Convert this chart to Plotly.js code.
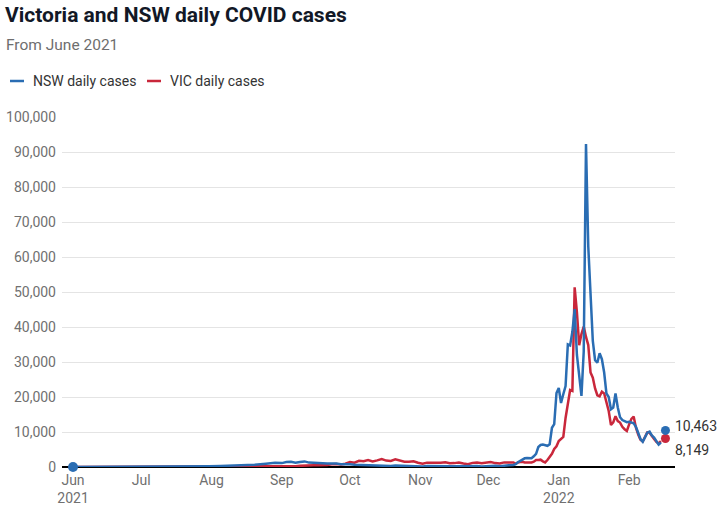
<!DOCTYPE html>
<html>
<head>
<meta charset="utf-8">
<script src="https://cdn.plot.ly/plotly-3.0.1.min.js"></script>
<style>
  html, body { margin: 0; padding: 0; background: #fff; }
  #chart { width: 728px; height: 513px; }
</style>
</head>
<body>
<div id="chart"></div>
<script>
// ---- Data ----
const dates = [
  '2021-06-01','2021-06-06','2021-06-11','2021-06-16','2021-06-21','2021-06-26',
  '2021-07-01','2021-07-06','2021-07-11','2021-07-16','2021-07-21','2021-07-26','2021-07-31',
  '2021-08-05','2021-08-10','2021-08-15','2021-08-20','2021-08-25','2021-08-29',
  '2021-09-01','2021-09-03','2021-09-05','2021-09-07','2021-09-09','2021-09-11','2021-09-13',
  '2021-09-15','2021-09-17','2021-09-19','2021-09-21','2021-09-23','2021-09-25','2021-09-27','2021-09-29',
  '2021-10-01','2021-10-03','2021-10-05','2021-10-07','2021-10-09','2021-10-11','2021-10-13',
  '2021-10-15','2021-10-17','2021-10-19','2021-10-21','2021-10-23','2021-10-25','2021-10-27','2021-10-29','2021-10-31',
  '2021-11-02','2021-11-04','2021-11-06','2021-11-08','2021-11-10','2021-11-12','2021-11-14',
  '2021-11-16','2021-11-18','2021-11-20','2021-11-22','2021-11-24','2021-11-26','2021-11-28','2021-11-30',
  '2021-12-02','2021-12-04','2021-12-06','2021-12-08','2021-12-10','2021-12-12',
  '2021-12-13','2021-12-14','2021-12-15','2021-12-16','2021-12-17','2021-12-18','2021-12-19','2021-12-20',
  '2021-12-21','2021-12-22','2021-12-23','2021-12-24','2021-12-25','2021-12-26','2021-12-27','2021-12-28',
  '2021-12-29','2021-12-30','2021-12-31',
  '2022-01-01','2022-01-02','2022-01-03','2022-01-04','2022-01-05','2022-01-06','2022-01-07','2022-01-08',
  '2022-01-09','2022-01-10','2022-01-11','2022-01-12','2022-01-13','2022-01-14','2022-01-15','2022-01-16',
  '2022-01-17','2022-01-18','2022-01-19','2022-01-20','2022-01-21','2022-01-22','2022-01-23','2022-01-24',
  '2022-01-25','2022-01-26','2022-01-27','2022-01-28','2022-01-29','2022-01-30','2022-01-31',
  '2022-02-01','2022-02-02','2022-02-03','2022-02-04','2022-02-05','2022-02-06','2022-02-07','2022-02-08',
  '2022-02-09','2022-02-10','2022-02-11','2022-02-12','2022-02-13','2022-02-14','2022-02-15'
];

const nswCases = [
  0,2,3,4,10,25,
  22,35,77,97,110,145,210,
  290,340,420,640,920,1200,
  1116,1431,1485,1220,1405,1599,1257,
  1259,1284,1083,1022,1063,1007,787,864,
  813,667,608,587,580,496,444,
  399,301,273,406,332,282,304,250,177,
  173,308,250,187,207,250,213,
  180,216,232,180,250,261,169,261,
  271,337,208,403,516,560,
  804,1360,1742,2213,2482,2566,2501,2501,
  3057,3763,5715,6288,6394,6324,6062,6500,
  11201,12226,21151,
  22577,18278,20794,23131,35054,34759,38625,45098,
  32000,25000,20300,33000,92264,63018,48768,36000,
  30500,29800,32500,30800,27000,21000,20000,16500,
  17000,21000,17000,14200,13400,13200,12800,
  12900,12700,12500,11500,9800,8000,7200,8300,
  9800,10100,9000,8400,7300,6400,7000
];

const vicCases = [
  0,8,5,2,1,3,
  1,2,0,10,20,12,1,
  5,20,25,57,45,92,
  120,208,246,246,324,450,473,
  514,510,507,603,766,847,705,950,
  1438,1220,1763,1638,1965,1612,1900,
  2297,1838,1749,2189,1935,1510,1534,1656,1200,
  941,1247,1221,1126,1247,1355,1052,
  1109,1273,1029,827,1180,1252,1061,1179,
  1419,1112,980,1312,1206,1290,
  888,1290,1405,1510,1302,1240,1240,1302,
  1503,1999,1985,2095,1608,1302,1999,2738,
  3767,5137,5919,
  7442,8000,8600,14020,17636,21997,21728,51356,
  44155,34808,37994,40127,37169,34836,27000,25526,
  22429,20500,20180,21500,21000,18681,16016,12000,
  12755,14500,13116,12700,11500,10800,10300,
  12157,13755,14400,11240,9300,7800,7300,8500,
  9900,9800,8800,8000,7200,6700,7400
];

const latestDate = '2022-02-17';
const nswLatest = 10463;
const vicLatest = 8149;

const seriesNames = ['NSW daily cases', 'VIC daily cases'];
const tickDates = ['2021-06-01','2021-07-01','2021-08-01','2021-09-01','2021-10-01',
                   '2021-11-01','2021-12-01','2022-01-01','2022-02-01'];
const tickLabels = ['Jun<br>2021','Jul','Aug','Sep','Oct','Nov','Dec','Jan<br>2022','Feb'];
const yTicks = [0,10000,20000,30000,40000,50000,60000,70000,80000,90000,100000];

// ---- Styles ----
const BLUE = '#2a6db3';
const RED = '#c9273b';
const FONT = 'Roboto, "Noto Sans", sans-serif';
const fmt = n => n.toLocaleString('en-US');

const traces = [
  { type: 'scatter', mode: 'lines', name: seriesNames[1], x: dates, y: vicCases,
    line: { color: RED, width: 2.5, shape: 'linear' }, hoverinfo: 'skip' },
  { type: 'scatter', mode: 'lines', name: seriesNames[0], x: dates, y: nswCases,
    line: { color: BLUE, width: 2.5, shape: 'linear' }, hoverinfo: 'skip' },
  { type: 'scatter', mode: 'markers', x: [dates[0]], y: [nswCases[0]],
    marker: { color: BLUE, size: 10 }, cliponaxis: false, hoverinfo: 'skip' },
  { type: 'scatter', mode: 'markers', x: [latestDate], y: [vicLatest],
    marker: { color: RED, size: 9 }, cliponaxis: false, hoverinfo: 'skip' },
  { type: 'scatter', mode: 'markers', x: [latestDate], y: [nswLatest],
    marker: { color: BLUE, size: 9 }, cliponaxis: false, hoverinfo: 'skip' }
];

// paper-coordinate helpers based on margins (plot area 62..675 x, 117..467 y)
const L = 62, R = 53, T = 117, B = 46, W = 728, H = 513;
const pw = W - L - R, ph = H - T - B;
const px = x => (x - L) / pw;
const py = y => (H - B - y) / ph;

const layout = {
  width: W, height: H,
  margin: { l: L, r: R, t: T, b: B, pad: 0 },
  paper_bgcolor: '#ffffff', plot_bgcolor: '#ffffff',
  showlegend: false,
  font: { family: FONT, size: 14, color: '#707070' },
  title: {
    text: 'Victoria and NSW daily COVID cases',
    xref: 'container', yref: 'container',
    x: 5 / W, xanchor: 'left',
    y: 1 - 15 / H, yanchor: 'middle',
    font: { family: FONT, size: 21, weight: 700, color: '#121826' }
  },
  xaxis: {
    type: 'date',
    range: ['2021-05-27 03:36', '2022-02-21 05:00'],
    tickmode: 'array', tickvals: tickDates, ticktext: tickLabels,
    showgrid: false, zeroline: false, showline: false,
    ticks: '', ticklabelstandoff: 3,
    tickfont: { family: FONT, size: 14, color: '#707070' },
    fixedrange: true
  },
  yaxis: {
    range: [0, 100000],
    tickmode: 'array', tickvals: yTicks, ticktext: yTicks.map(fmt),
    showgrid: true, gridcolor: '#e4e4e4', gridwidth: 1,
    zeroline: true, zerolinecolor: '#000000', zerolinewidth: 2.5,
    showline: false, ticks: '', ticklabelstandoff: 5,
    tickfont: { family: FONT, size: 14, color: '#707070' },
    fixedrange: true
  },
  shapes: [
    { type: 'line', xref: 'paper', yref: 'paper', x0: px(10), x1: px(24), y0: py(81), y1: py(81),
      line: { color: BLUE, width: 2.5 } },
    { type: 'line', xref: 'paper', yref: 'paper', x0: px(147), x1: px(161), y0: py(81), y1: py(81),
      line: { color: RED, width: 2.5 } }
  ],
  annotations: [
    { xref: 'paper', yref: 'paper', x: px(4), y: py(45), xanchor: 'left', yanchor: 'middle',
      text: 'From June 2021', showarrow: false,
      font: { family: FONT, size: 15.5, color: '#6e6e6e' } },
    { xref: 'paper', yref: 'paper', x: px(31), y: py(81), xanchor: 'left', yanchor: 'middle',
      text: seriesNames[0], showarrow: false,
      font: { family: FONT, size: 14, color: '#333333' } },
    { xref: 'paper', yref: 'paper', x: px(168), y: py(81), xanchor: 'left', yanchor: 'middle',
      text: seriesNames[1], showarrow: false,
      font: { family: FONT, size: 14, color: '#333333' } },
    { x: latestDate, y: nswLatest, xref: 'x', yref: 'y', xanchor: 'left', yanchor: 'middle',
      xshift: 8, yshift: 4, text: fmt(nswLatest), showarrow: false,
      font: { family: FONT, size: 14, color: '#333333' } },
    { x: latestDate, y: vicLatest, xref: 'x', yref: 'y', xanchor: 'left', yanchor: 'middle',
      xshift: 8, yshift: -12, text: fmt(vicLatest), showarrow: false,
      font: { family: FONT, size: 14, color: '#333333' } }
  ]
};

Plotly.newPlot('chart', traces, layout, { displayModeBar: false, staticPlot: true });
</script>
</body>
</html>
